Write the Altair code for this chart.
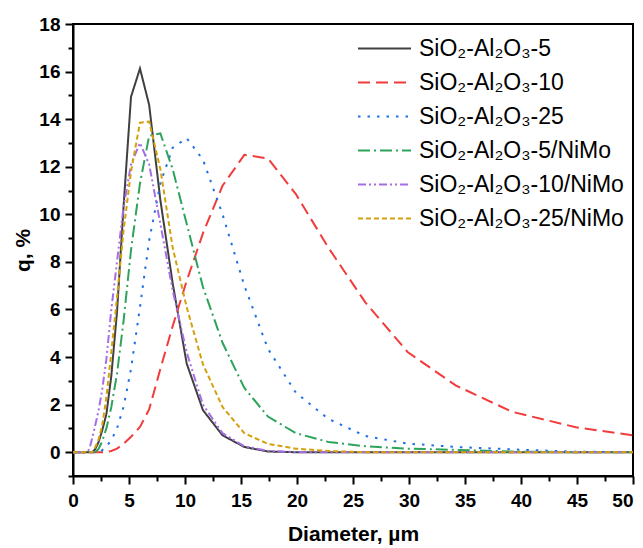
import altair as alt
import pandas as pd

# Particle size grid (µm)
diameter = [0, 1.14, 1.3, 1.5, 1.72, 1.97, 2.26, 2.6, 2.98, 3.42, 3.93, 4.51, 5.18, 5.98,
            6.8, 7.8, 8.9, 10.15, 11.6, 13.35, 15.3, 17.4, 19.9, 22.8, 26.1, 29.9, 34.2,
            39.2, 44.9, 51.4]

series_names = ["SiO₂-Al₂O₃-5", "SiO₂-Al₂O₃-10", "SiO₂-Al₂O₃-25",
                "SiO₂-Al₂O₃-5/NiMo", "SiO₂-Al₂O₃-10/NiMo", "SiO₂-Al₂O₃-25/NiMo"]

q_sa5 = [0, 0, 0, 0, 0, 0.12, 0.4, 0.9, 1.6, 3.2, 5.9, 10.3, 14.94, 16.13,
         14.6, 10.6, 7.1, 3.73, 1.77, 0.71, 0.22, 0.03, 0, 0, 0, 0, 0, 0, 0, 0]
q_sa10 = [0, 0, 0, 0, 0, 0, 0, 0, 0, 0.05, 0.15, 0.35, 0.65, 1.06,
          1.8, 3.5, 5.3, 7.2, 9.2, 11.2, 12.5, 12.35, 10.85, 8.6, 6.3, 4.2, 2.8,
          1.7, 1.05, 0.62]
q_sa25 = [0, 0, 0, 0, 0, 0, 0, 0.08, 0.25, 0.5, 1.0, 1.9, 3.5, 6.1,
          8.9, 11.3, 12.8, 13.2, 12.3, 10.0, 7.0, 4.35, 2.5, 1.4, 0.68, 0.36, 0.22,
          0.12, 0.02, 0]
q_sa5_nimo = [0, 0, 0, 0, 0, 0, 0.12, 0.45, 1.0, 1.9, 3.3, 5.5, 8.5, 11.3,
              13.3, 13.4, 11.9, 9.6, 6.95, 4.6, 2.7, 1.5, 0.8, 0.43, 0.25, 0.15, 0.1,
              0.03, 0, 0]
q_sa10_nimo = [0, 0, 0, 0.2, 0.6, 1.1, 1.7, 2.6, 3.9, 6.0, 8.0, 10.3, 12.1, 13.0,
               12.1, 9.6, 6.8, 4.2, 2.0, 0.8, 0.25, 0.06, 0, 0, 0, 0, 0, 0, 0, 0]
q_sa25_nimo = [0, 0, 0, 0, 0, 0.2, 0.5, 1.1, 2.3, 4.2, 6.5, 9.3, 11.8, 13.85,
               13.9, 11.9, 8.6, 6.1, 3.7, 1.9, 0.8, 0.35, 0.15, 0.05, 0, 0, 0, 0, 0, 0]

colors = ["#404040", "#f23c3c", "#1f6fe6", "#2ea35c", "#a56ee6", "#d4a00c"]
dashes = [[1, 0], [12, 6], [2.5, 7], [12, 4, 2, 4], [8, 3, 2, 3, 2, 3], [5, 3]]

all_series = [q_sa5, q_sa10, q_sa25, q_sa5_nimo, q_sa10_nimo, q_sa25_nimo]
rows = []
for name, vals in zip(series_names, all_series):
    for d, v in zip(diameter, vals):
        rows.append({"Diameter": d, "q": v, "Sample": name})
df = pd.DataFrame(rows)

x_ticks = [i * 2.5 for i in range(21)]
y_ticks = list(range(-1, 19))

FONT = "Liberation Sans"

legend = alt.Legend(
    title=None, orient="none", legendX=300, legendY=13,
    labelFont=FONT, labelFontSize=23, labelColor="black", labelLimit=0,
    symbolType="M-2.65,0L2.65,0", symbolSize=400, symbolStrokeWidth=2,
    labelOffset=23, rowPadding=10, padding=0,
)

chart = alt.Chart(df).mark_line(strokeWidth=2, clip=True).encode(
    x=alt.X("Diameter:Q",
            scale=alt.Scale(domain=[0, 50], nice=False, zero=False),
            axis=alt.Axis(title="Diameter, µm", values=x_ticks,
                          labelExpr="datum.value % 5 == 0 ? datum.label : ''",
                          tickSize={"condition": {"test": "datum.value % 5 == 0", "value": 8}, "value": 5},
                          labelAlign={"condition": {"test": "datum.value >= 50", "value": "right"}, "value": "center"},
                          labelFlush=False, labelOverlap=False, labelPadding=7,
                          titlePadding=13)),
    y=alt.Y("q:Q",
            scale=alt.Scale(domain=[-1, 18], nice=False, zero=False),
            axis=alt.Axis(title="q, %", values=y_ticks,
                          labelExpr="datum.value % 2 == 0 ? datum.label : ''",
                          tickSize={"condition": {"test": "datum.value % 2 == 0", "value": 8}, "value": 5},
                          labelFlush=False, labelOverlap=False, labelPadding=5,
                          titlePadding=5)),
    color=alt.Color("Sample:N", scale=alt.Scale(domain=series_names, range=colors), legend=legend),
    strokeDash=alt.StrokeDash("Sample:N", scale=alt.Scale(domain=series_names, range=dashes), legend=legend),
).properties(
    width=560, height=452,
    autosize=alt.AutoSizeParams(type="none"),
    padding={"left": 65, "top": 16, "right": 2, "bottom": 72},
).configure_view(
    stroke="black", strokeWidth=2
).configure_axis(
    domainColor="black", domainWidth=2, tickColor="black", tickWidth=2,
    labelFont=FONT, labelFontSize=19, labelFontWeight="bold", labelColor="black",
    titleFont=FONT, titleFontSize=21, titleFontWeight="bold", titleColor="black",
    grid=False,
)

chart.save("out.html", embed_options={"renderer": "svg", "actions": False})
